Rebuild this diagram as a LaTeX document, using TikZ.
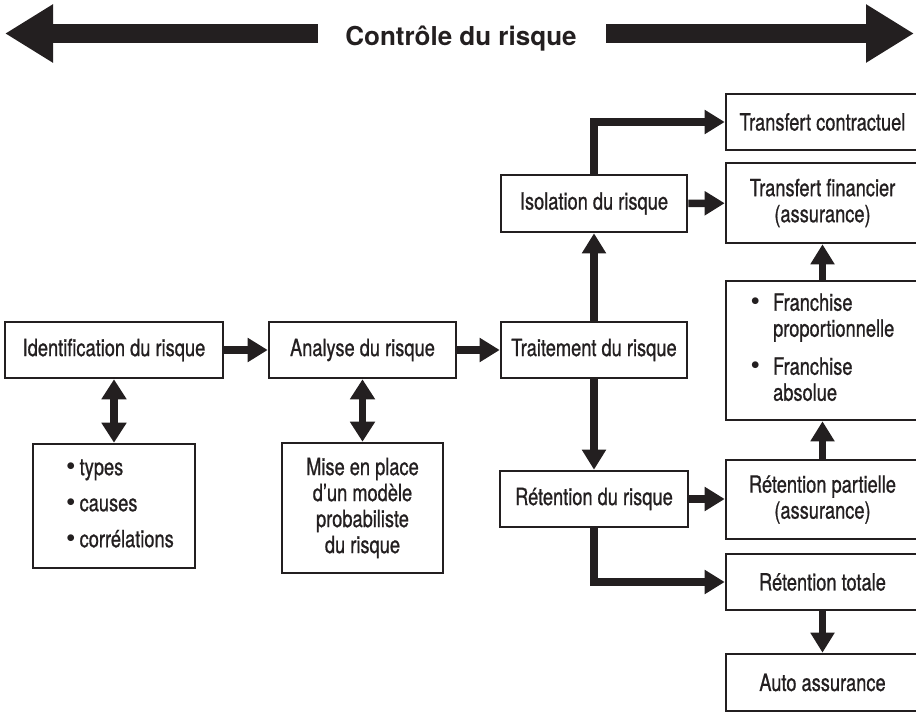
\documentclass[tikz,border=0pt]{standalone}
\usepackage{fontspec}
\setmainfont{TeX Gyre Heros}[FakeStretch=0.77,FakeBold=0.8]
\newfontfamily\titlefont{TeX Gyre Heros}
\newcommand{\bul}{{\titlefont\fontsize{27}{26}\selectfont •}}
\usetikzlibrary{arrows.meta}
\definecolor{ink}{HTML}{231F20}
\begin{document}
\begin{tikzpicture}[x=1pt,y=-1pt,
  box/.style={draw=ink,line width=2.6pt,fill=white,inner sep=0pt,align=center,text=ink,
    font=\fontsize{23.7}{26}\selectfont},
  bx/.style 2 args={box,minimum width=#1,minimum height=#2},
  flow/.style={draw=ink,line width=7.5pt,-{Triangle[width=23pt,length=20pt]}},
  dflow/.style={draw=ink,line width=7.5pt,{Triangle[width=24pt,length=20pt]}-{Triangle[width=24pt,length=20pt]}},
  big/.style={draw=ink,line width=19pt,-{Triangle[width=55pt,length=48pt]}}]
\useasboundingbox (0,0) rectangle (916,712);

% title and big arrows
\node[anchor=base,text=ink,font=\titlefont\bfseries\fontsize{26}{30}\selectfont] (title) at (461,45) {Contrôle du risque};
\coordinate (lt) at (318,33.5);
\coordinate (lh) at (5,33.5);
\coordinate (rt0) at (606,33.5);
\coordinate (rh) at (914,33.5);
\draw[big] (lt) -- (lh);
\draw[big] (rt0) -- (rh);

% boxes
\node[bx={218pt}{56pt}] (ident) at (114,350) {Identification du risque};
\node[bx={187pt}{56pt}] (analyse) at (362.5,350) {Analyse du risque};
\node[bx={162pt}{124pt}] (types) at (114,506) {\hspace*{12pt}\begin{tabular}{@{}l@{\hspace{4pt}}l@{}}
  \bul & types\\[10pt]
  \bul & causes\\[10pt]
  \bul & corrélations
\end{tabular}};
\node[bx={161pt}{130pt}] (mise) at (362.5,508) {Mise en place\\d’un modèle\\probabiliste\\du risque};
\node[bx={186pt}{56pt}] (trait) at (594,350) {Traitement du risque};
\node[bx={186pt}{57pt}] (isol) at (594,203.5) {Isolation du risque};
\node[bx={188pt}{56pt}] (retr) at (594,499) {Rétention du risque};
\node[bx={193pt}{56pt}] (tc) at (822.5,122) {Transfert contractuel};
\node[bx={193pt}{80pt}] (tf) at (822.5,203) {Transfert financier\\(assurance)};
\node[bx={193pt}{139pt}] (fr) at (822.5,350.5) {\begin{tabular}{@{}l@{\hspace{13pt}}l@{}}
  \bul & Franchise\\
    & proportionnelle\\[12pt]
  \bul & Franchise\\
    & absolue
\end{tabular}};
\node[bx={193pt}{79pt}] (rp) at (822.5,499.5) {Rétention partielle\\(assurance)};
\node[bx={193pt}{56pt}] (rtot) at (822.5,582) {Rétention totale};
\node[bx={193pt}{57pt}] (aa) at (822.5,682.5) {Auto assurance};

% connectors
\draw[flow] (ident) -- (analyse);
\draw[flow] (analyse) -- (trait);
\draw[dflow] (ident) -- (types);
\draw[dflow] (analyse) -- (mise);
\draw[flow] (trait) -- (isol);
\draw[flow] (trait) -- (retr);
\draw[flow] (isol.north) |- (tc.west);
\draw[flow] (isol) -- (tf);
\draw[flow] (fr) -- (tf);
\draw[flow] (rp) -- (fr);
\draw[flow] (retr.east) -- (rp.west |- retr.east);
\draw[flow] (retr.south) |- (rtot.west);
\draw[flow] (rtot) -- (aa);
\end{tikzpicture}
\end{document}
